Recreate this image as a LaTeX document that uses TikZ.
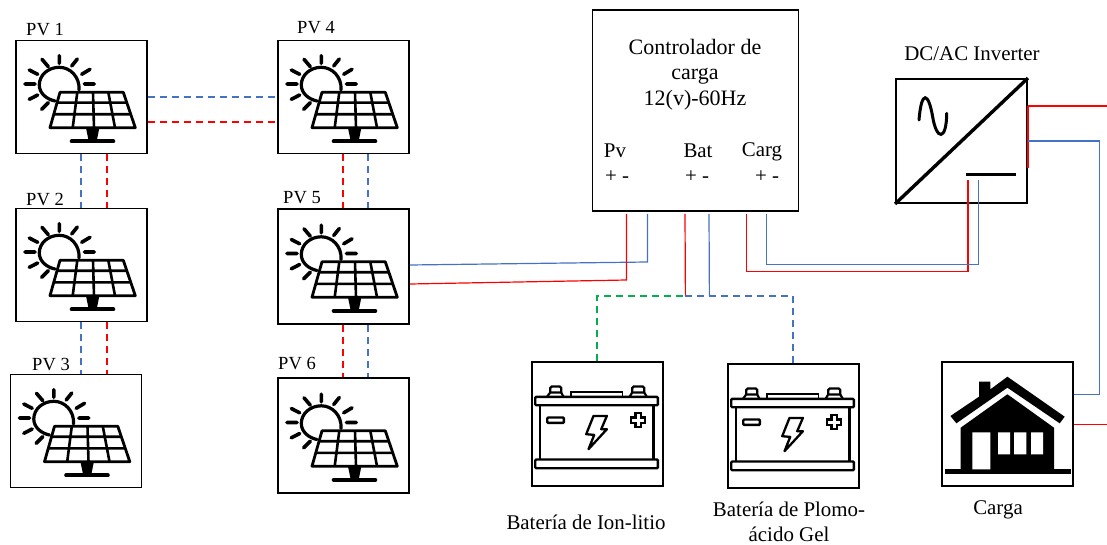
\documentclass[tikz,border=0pt]{standalone}
\usepackage{fontspec}
\setmainfont{Liberation Serif}

\begin{document}
\begin{tikzpicture}[x=1pt, y=-1pt,
	main/.style = {draw, rectangle, line width=1.8pt, inner sep=0pt},
	panelbox/.style = {main, minimum width=131pt, minimum height=113pt},
	storebox/.style = {main, minimum width=131pt, minimum height=124pt},
	small/.style = {inner sep=0pt, font=\fontsize{18.5}{22}\selectfont},
	big/.style = {inner sep=0pt, align=center, font=\fontsize{20.9}{25.5}\selectfont},
	redwire/.style = {draw=red, line width=1.2pt},
	bluewire/.style = {draw=wireblue, line width=1.2pt},
	reddash/.style = {draw=red, line width=1.5pt, dash pattern=on 7pt off 5pt},
	bluedash/.style = {draw=wireblue, line width=1.5pt, dash pattern=on 7pt off 5pt},
	greendash/.style = {draw=wiregreen, line width=1.5pt, dash pattern=on 7pt off 5pt},
	solar/.pic = {
		\draw[line width=3.2pt, line cap=round] (-2.5,-7) .. controls (-1.5,-20.3) and (-11.5,-29.7) .. (-22.2,-29.7) .. controls (-33.2,-29.7) and (-42.2,-22) .. (-42.2,-12) .. controls (-42.2,-3.7) and (-34.8,2.3) .. (-26.5,4);
		\draw[line width=3.6pt, line cap=round] (2.8,-13) -- (12.8,-13) (0.2,-22.7) -- (8.5,-27.7) (-9.8,-31) -- (-4.2,-38) (-22.2,-41.3) -- (-22.2,-33.7) (-39.5,-37.7) -- (-33.2,-30.3) (-52.2,-27) -- (-43.8,-22.7) (-56.5,-13) -- (-46.5,-13) (-52.2,2.3) -- (-43.8,-2) (-39.8,12.3) -- (-33.2,5.7);
		\draw[line width=2.8pt, line join=round] (-21.5,-4.7) -- (41.8,-4.7) -- (53.8,30.7) -- (-31.5,30.7) -- cycle;
		\draw[line width=2.6pt] (-24.5,5.7) -- (45.2,5.7) (-27.8,17.3) -- (49.2,17.3) (-4.2,-4.7) -- (-8.8,30.7) (11.5,-4.7) -- (12.5,30.7) (26.8,-4.7) -- (33.5,30.7);
		\fill (4.5,31) -- (17.8,31) -- (15.2,44) -- (7.2,44) -- cycle;
		\draw[line width=4pt, line cap=round] (-9.8,44.3) -- (31.8,44.3);
	},
	accu/.pic = {
		\draw[line width=2.4pt, rounded corners=1pt] (-62,-27.3) rectangle (60.7,-19);
		\draw[line width=2.4pt, rounded corners=1pt] (-62,35.3) rectangle (60.7,44);
		\draw[line width=2.4pt] (-57.3,-19) -- (-57.3,35.3) (56.3,-19) -- (56.3,35.3);
		\draw[line width=2.2pt, line join=round] (-50.3,-27.3) -- (-47,-31.7) -- (-36,-31.7) -- (-33.7,-27.3);
		\draw[line width=2.2pt, rounded corners=1.5pt] (-47,-31.7) -- (-47,-37.7) -- (-36,-37.7) -- (-36,-31.7);
		\draw[line width=2.2pt, line join=round] (32.3,-27.3) -- (35,-31.7) -- (47,-31.7) -- (49.7,-27.3);
		\draw[line width=2.2pt, rounded corners=1.5pt] (35,-31.7) -- (35,-37.7) -- (47,-37.7) -- (47,-31.7);
		\draw[line width=1.8pt] (-26.3,-27.3) -- (-26.3,-32.3) -- (25.3,-32.3) -- (25.3,-27.3);
		\draw[line width=2.4pt, rounded corners=1pt] (-50,-6.7) rectangle (-33.3,-1.3);
		\draw[line width=8pt] (33,-4) -- (49,-4) (41,-12) -- (41,4);
		\draw[white, line width=3.4pt] (34.8,-4) -- (47.2,-4) (41,-10.2) -- (41,2.2);
		\draw[line width=2.3pt, line join=round] (-3.7,-8.3) -- (9.7,-8.3) -- (4,5) -- (9.7,5) -- (-8.7,25) -- (-3,10.7) -- (-11,10) -- cycle;
	},
	casa/.pic = {
		\fill (0.2,-47) -- (57.5,-7) -- (52.5,-0.4) -- (0.2,-36) -- (-50.8,-0.4) -- (-56.8,-7.7) -- (-28.2,-27) -- (-28.2,-42) -- (-16.8,-42) -- (-16.8,-34.4) -- cycle;
		\fill (-46.5,4) -- (0.2,-29.4) -- (46.8,4) -- (46.8,46.3) -- (-46.5,46.3) -- cycle;
		\fill (-62.5,45.6) rectangle (63.5,50.6);
		\fill[white] (-34.8,8.6) rectangle (-16.8,45.6) (-9.2,8.6) rectangle (2.8,30.6) (6.8,8.6) rectangle (19.2,30.6) (23.8,8.6) rectangle (35.8,30.6);
	}]
	\definecolor{wireblue}{RGB}{68,114,196}
	\definecolor{wiregreen}{RGB}{0,176,80}
	\useasboundingbox (0,0) rectangle (1107,545);

	\node[panelbox] (pv1) at (81.5,97) {};
	\node[panelbox] (pv2) [below of=pv1, node distance=168pt] {};
	\node[panelbox] (pv3) [below of=pv2, node distance=166pt, xshift=-5.5pt] {};
	\node[panelbox] (pv4) [right of=pv1, node distance=262pt] {};
	\node[panelbox, minimum height=115pt] (pv5) [below of=pv4, node distance=169.5pt] {};
	\node[panelbox, minimum height=115pt] (pv6) [below of=pv5, node distance=169pt] {};
	\node[main, minimum width=206pt, minimum height=201pt] (ctl) at (695.5,110.5) {};
	\node[main, minimum width=131pt, minimum height=124pt] (inv) at (961.5,141) {};
	\node[storebox] (bat1) at (597.2,424.2) {};
	\node[storebox] (bat2) [right of=bat1, node distance=196pt, yshift=-2pt] {};
	\node[storebox] (car) at (1007.2,423.7) {};

	\foreach \n in {pv1,pv2,pv3,pv4,pv5,pv6} \pic at (\n) {solar};
	\pic at (bat1) {accu};
	\pic at (bat2) {accu};
	\pic at (car) {casa};

	\draw[line width=3.4pt] (inv.south west) -- (inv.north east);
	\draw[line width=3pt, line cap=round] ([shift={(-42.5,-21)}]inv.center) .. controls ([shift={(-40,-52)}]inv.center) and ([shift={(-33,-48)}]inv.center) .. ([shift={(-29,-25)}]inv.center) .. controls ([shift={(-25,0)}]inv.center) and ([shift={(-15,0)}]inv.center) .. ([shift={(-14.8,-27.7)}]inv.center);
	\draw[line width=3.4pt] ([shift={(4.5,33.3)}]inv.center) -- ([shift={(54.5,33.3)}]inv.center);

	\node[small] (t1) at (45,30) {PV 1};
	\node[small] (t2) at (45,200) {PV 2};
	\node[small] (t3) at (51,365) {PV 3};
	\node[small] (t4) at (316,28) {PV 4};
	\node[small] (t5) at (302,198) {PV 5};
	\node[small] (t6) at (297,364) {PV 6};
	\node[big, font=\fontsize{22}{25.5}\selectfont] (ctltxt) at (695,74.5) {Controlador de\\carga\\12(v)-60Hz};
	\node[big] (pvtxt) at (615,150.5) {Pv};
	\node[big] (battxt) at (698,150.5) {Bat};
	\node[big] (cargtxt) at (762,152) {Carg};
	\node[big] (pvpol) at (617,177) {+ -};
	\node[big] (batpol) at (697,177) {+ -};
	\node[big] (cargpol) at (767,177) {+ -};
	\node[big] (invtxt) at (972,54) {DC/AC Inverter};
	\node[big] (bat1txt) at (586,522) {Batería de Ion-litio};
	\node[big] (bat2txt) at (789,522) {Batería de Plomo-\\ácido Gel};
	\node[big] (cartxt) at (998,509.5) {Carga};

	\draw[bluedash] (pv1.east) -- (pv4.west);
	\draw[reddash] ([yshift=-25pt]pv1.east) -- ([yshift=-25pt]pv4.west);
	\draw[bluedash] ([xshift=-.5pt]pv1.south) -- ([xshift=-.5pt]pv2.north);
	\draw[reddash] ([xshift=25.5pt]pv1.south) -- ([xshift=25.5pt]pv2.north);
	\draw[bluedash] ([xshift=-.5pt]pv2.south) -- ([xshift=5pt]pv3.north);
	\draw[reddash] ([xshift=25.5pt]pv2.south) -- ([xshift=31pt]pv3.north);
	\draw[reddash] ([xshift=-.5pt]pv4.south) -- ([xshift=-.5pt]pv5.north);
	\draw[bluedash] ([xshift=24.5pt]pv4.south) -- ([xshift=24.5pt]pv5.north);
	\draw[reddash] ([xshift=-.5pt]pv5.south) -- ([xshift=-.5pt]pv6.north);
	\draw[bluedash] ([xshift=24.5pt]pv5.south) -- ([xshift=24.5pt]pv6.north);

	\coordinate (pvb) at (647.5,262);
	\coordinate (pvr) at (626.5,280);
	\coordinate (cargb) at (766.5,264.5);
	\coordinate (cargr) at (746.5,271.5);
	\coordinate (busr) at (685.4,296);
	\coordinate (busb) at (709.4,296);
	\coordinate (acr) at (1107,106);
	\coordinate (acb) at (1099.5,141);
	\coordinate (loadr) at (1107,424.2);

	\draw[bluewire] ([yshift=1.5pt]pv5.east) -- (pvb) -- ([shift={(-48,2)}]ctl.south);
	\draw[redwire] ([yshift=-17.5pt]pv5.east) -- (pvr) -- ([shift={(-69,2)}]ctl.south);
	\draw[redwire] ([shift={(-10.5,2)}]ctl.south) -- (busr);
	\draw[bluewire] ([shift={(13.5,2)}]ctl.south) -- (busb);
	\draw[redwire] ([shift={(51,2)}]ctl.south) -- (cargr) -| ([shift={(6.5,-24)}]inv.south);
	\draw[bluewire] ([shift={(71,2)}]ctl.south) -- (cargb) -| ([shift={(17,-24)}]inv.south);
	\draw[greendash] (bat1.north) |- (busr);
	\draw[bluedash] (busr) -| (bat2.north);
	\draw[redwire, line width=2pt] ([yshift=35pt]inv.east) -- ([yshift=-27pt]inv.east);
	\draw[redwire] ([yshift=35pt]inv.east) -- (acr);
	\draw[bluewire] (inv.east) -- (acb) |- ([yshift=29.5pt]car.east);
	\draw[redwire] ([yshift=-.5pt]car.east) -- (loadr);
\end{tikzpicture}
\end{document}
